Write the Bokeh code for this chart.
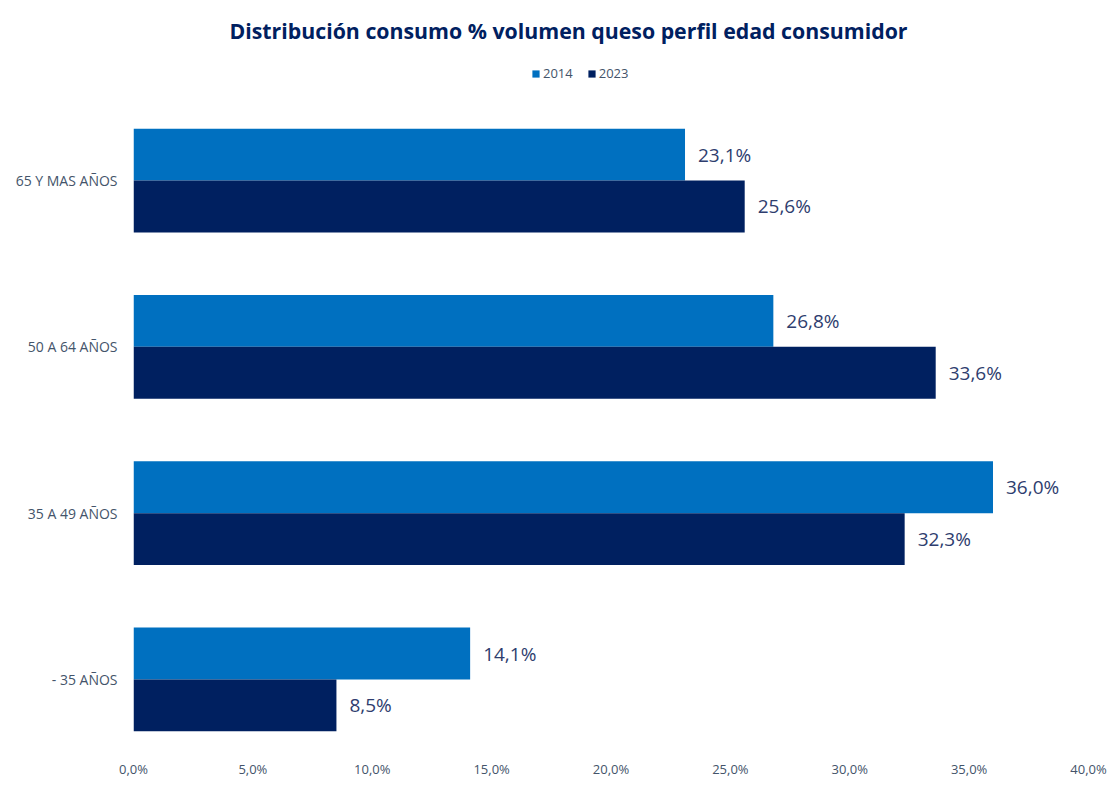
from bokeh.plotting import figure
from bokeh.models import (ColumnDataSource, FixedTicker, CustomJSTickFormatter,
                          Legend, LegendItem, LabelSet, Range1d)
from bokeh.transform import dodge
from bokeh.core.properties import value
from bokeh.embed import file_html
from bokeh.resources import INLINE

# ---- data ----
categories = ["- 35 AÑOS", "35 A 49 AÑOS", "50 A 64 AÑOS", "65 Y MAS AÑOS"]
values_2014 = [14.1, 36.0, 26.8, 23.1]
values_2023 = [8.5, 32.3, 33.6, 25.6]
x_ticks = [0, 5, 10, 15, 20, 25, 30, 35, 40]

C2014 = "#0070C0"
C2023 = "#002060"
TXT = "#44546A"
LBL = "#2E3D6E"
FONT = "Open Sans"

def fmt(v):
    return f"{v:.1f}".replace(".", ",") + "%"

pos = list(range(len(categories)))
src = ColumnDataSource(dict(
    pos=pos,
    v14=values_2014,
    v23=values_2023,
    l14=[fmt(v) for v in values_2014],
    l23=[fmt(v) for v in values_2023],
))

p = figure(width=1108, height=780, output_backend="svg", toolbar_location=None,
           y_range=Range1d(-0.379, 3.80), x_range=Range1d(0, 40),
           min_border_left=133, min_border_right=20, min_border_top=47, min_border_bottom=30)

bh = 0.312
r14 = p.hbar(y=dodge("pos", bh / 2), right="v14", left=0, height=bh,
             source=src, color=C2014, line_color=None)
r23 = p.hbar(y=dodge("pos", -bh / 2), right="v23", left=0, height=bh,
             source=src, color=C2023, line_color=None)

lab14 = LabelSet(x="v14", y=dodge("pos", bh / 2), text="l14", source=src,
                 x_offset=13, text_baseline="middle", text_font_size="19px",
                 text_font=value(FONT), text_color=LBL)
lab23 = LabelSet(x="v23", y=dodge("pos", -bh / 2), text="l23", source=src,
                 x_offset=13, text_baseline="middle", text_font_size="19px",
                 text_font=value(FONT), text_color=LBL)
p.add_layout(lab14)
p.add_layout(lab23)

# axes
p.xaxis.ticker = FixedTicker(ticks=x_ticks)
p.xaxis.formatter = CustomJSTickFormatter(code="return tick.toFixed(1).replace('.', ',') + '%';")
p.yaxis.ticker = FixedTicker(ticks=pos)
p.yaxis.major_label_overrides = {i: c for i, c in zip(pos, categories)}
for ax in (p.xaxis[0], p.yaxis[0]):
    ax.axis_line_color = None
    ax.major_tick_line_color = None
    ax.minor_tick_line_color = None
    ax.major_label_text_font = FONT
    ax.major_label_text_color = TXT
p.xaxis.major_label_text_font_size = "13px"
p.yaxis.major_label_text_font_size = "14px"
p.xaxis.major_label_standoff = 11
p.yaxis.major_label_standoff = 10

p.xgrid.grid_line_color = None
p.ygrid.grid_line_color = None
p.outline_line_color = None

# title
p.title.text = "Distribución consumo % volumen queso perfil edad consumidor"
p.title.align = "left"
p.title.offset = 96
p.title.standoff = 6
p.title.text_font = FONT
p.title.text_font_size = "21.3px"
p.title.text_font_style = "bold"
p.title.text_color = "#002060"

legend = Legend(items=[LegendItem(label="2014", renderers=[r14]),
                       LegendItem(label="2023", renderers=[r23])],
                orientation="horizontal", location=(398, 660),
                glyph_width=9, glyph_height=9, label_text_font=FONT,
                label_text_font_size="13px", label_text_color=TXT,
                label_standoff=3, spacing=14, padding=2, margin=0,
                border_line_color=None, background_fill_alpha=0)
p.add_layout(legend)

open("out.html", "w").write(file_html(p, INLINE))
